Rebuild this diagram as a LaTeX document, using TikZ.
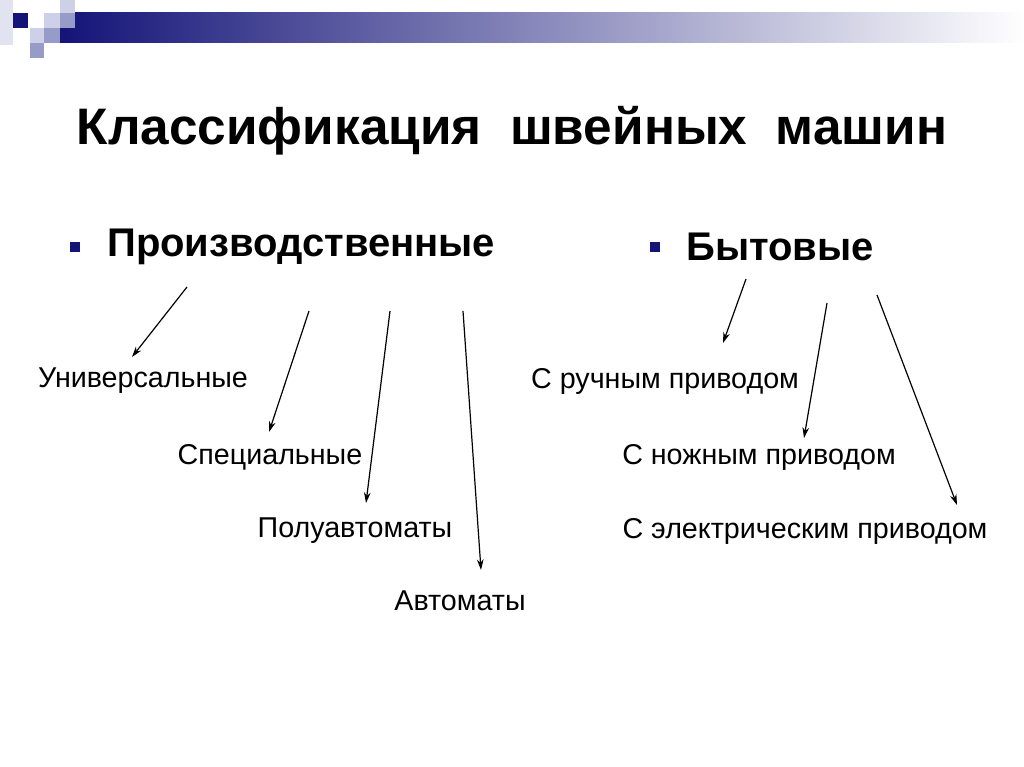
\documentclass[tikz,border=0pt]{standalone}
\usepackage{fontspec}
\usetikzlibrary{arrows.meta}
\setmainfont{Liberation Sans}
\begin{document}
\begin{tikzpicture}[x=0.75pt,y=-0.75pt,
 item/.style={inner sep=0pt,font=\fontsize{21.5}{25}\selectfont},
 head/.style={inner sep=0pt,font=\bfseries\fontsize{30}{36}\selectfont},
 arr/.style={-{Stealth[length=8pt,width=5pt]},line width=0.9pt}]
\useasboundingbox (0,0) rectangle (1024,767);
\fill[white] (0,0) rectangle (1024,767);
\definecolor{navy}{RGB}{20,20,120}
\definecolor{lb}{RGB}{205,208,230}
\definecolor{mb}{RGB}{150,155,200}
\shade[left color=navy,right color=white] (60,13) rectangle (1024,43);
\fill[lb!60] (0,0) rectangle (13,45);
\fill[navy] (13,13) rectangle (28,28);
\fill[lb] (44,13) rectangle (60,28);
\fill[lb] (60,0) rectangle (75,13);
\fill[mb] (60,13) rectangle (75,28);
\fill[lb] (30,28) rectangle (44,43);
\fill[mb] (44,28) rectangle (60,43);
\fill[mb] (30,43) rectangle (44,58);
\node[inner sep=0pt,font=\bfseries\fontsize{38.5}{44}\selectfont] (title) at (512,131) {Классификация\ \ швейных\ \ машин};
\fill[navy] (70,242) rectangle (80,252) coordinate (b1);
\node[head,anchor=west] (prod) at (107,247) {Производственные};
\fill[navy] (650,242) rectangle (660,252) coordinate (b2);
\node[head,anchor=west] (byt) at (686,247) {Бытовые};
\node[item] (u) at (143,381) {Универсальные};
\node[item] (s) at (270,457) {Специальные};
\node[item] (p) at (355,531) {Полуавтоматы};
\node[item] (a) at (460,601) {Автоматы};
\node[item] (r) at (665,381) {С ручным приводом};
\node[item] (n) at (759,457) {С ножным приводом};
\node[item] (e) at (805,531) {С электрическим приводом};
\coordinate (p1) at (187,287); \coordinate (q1) at (132,357);
\coordinate (p2) at (309,311); \coordinate (q2) at (269,432);
\coordinate (p3) at (390,311); \coordinate (q3) at (366,503);
\coordinate (p4) at (463,311); \coordinate (q4) at (481,570);
\coordinate (p5) at (746,279); \coordinate (q5) at (723,343);
\coordinate (p6) at (827,303); \coordinate (q6) at (804,438);
\coordinate (p7) at (877,295); \coordinate (q7) at (957,505);
\foreach \i in {1,...,7} \draw[arr] (p\i) -- (q\i);
\end{tikzpicture}
\end{document}
